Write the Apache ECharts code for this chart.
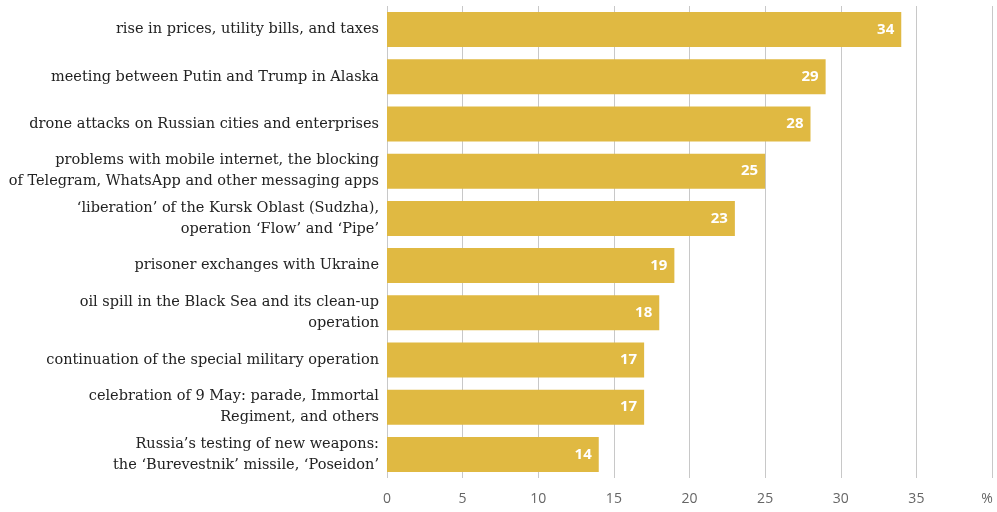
<!DOCTYPE html>
<html><head><meta charset="utf-8">
<script src="https://cdn.jsdelivr.net/npm/echarts@6/dist/echarts.min.js"></script>
<style>html,body{margin:0;padding:0;background:#fff}#c{width:997px;height:512px}</style>
</head><body><div id="c"></div>
<script>
const categories = [
  "rise in prices, utility bills, and taxes",
  "meeting between Putin and Trump in Alaska",
  "drone attacks on Russian cities and enterprises",
  "problems with mobile internet, the blocking\nof Telegram, WhatsApp and other messaging apps",
  "‘liberation’ of the Kursk Oblast (Sudzha),\noperation ‘Flow’ and ‘Pipe’",
  "prisoner exchanges with Ukraine",
  "oil spill in the Black Sea and its clean-up\noperation",
  "continuation of the special military operation",
  "celebration of 9 May: parade, Immortal\nRegiment, and others",
  "Russia’s testing of new weapons:\nthe ‘Burevestnik’ missile, ‘Poseidon’"
];
const values = [34, 29, 28, 25, 23, 19, 18, 17, 17, 14];
const tickUnit = "%";

const chart = echarts.init(document.getElementById('c'));
chart.setOption({
  animation: false,
  grid: { left: 387, right: 5, top: 6, bottom: 34, containLabel: false, outerBoundsMode: 'none' },
  xAxis: {
    type: 'value', min: 0, max: 40, interval: 5,
    axisLine: { show: false }, axisTick: { show: false },
    splitLine: { show: true, lineStyle: { color: '#c8c8c8', width: 1 } },
    axisLabel: {
      color: '#666', fontFamily: 'Open Sans', fontSize: 14, margin: 14,
      formatter: v => v === 40 ? '{u|' + tickUnit + '}' : String(v),
      rich: { u: { color: '#666', fontFamily: 'Open Sans', fontSize: 14, padding: [0, 10, 0, 0] } }
    }
  },
  yAxis: {
    type: 'category', data: categories, inverse: true,
    axisLine: { show: false }, axisTick: { show: false },
    axisLabel: { color: '#222', fontFamily: 'DejaVu Serif', fontSize: 14.5, lineHeight: 21, margin: 8 }
  },
  series: [{
    type: 'bar', data: values, barWidth: 35,
    itemStyle: { color: '#E0B942' },
    label: {
      show: true, position: 'insideRight', color: '#fff',
      fontFamily: 'Open Sans', fontWeight: 'bold', fontSize: 15, distance: 7
    }
  }]
});
</script></body></html>
